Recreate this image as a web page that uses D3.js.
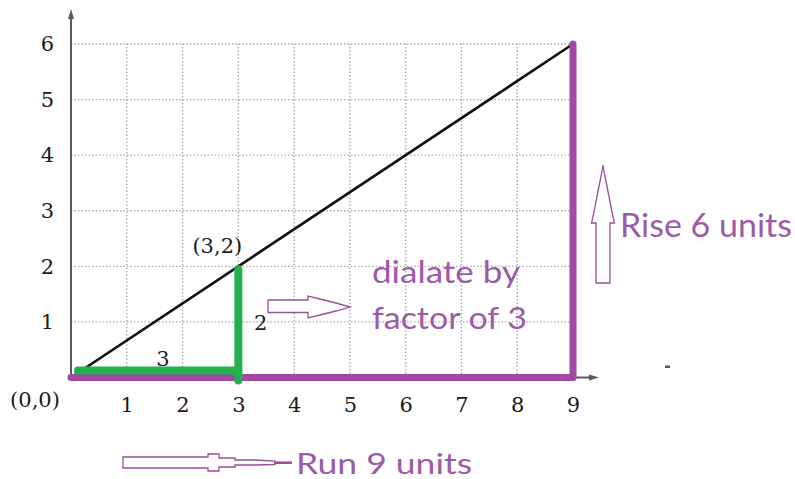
<!DOCTYPE html>
<html>
<head>
<meta charset="utf-8">
<script src="https://cdn.jsdelivr.net/npm/d3@7"></script>
<style>
  html, body { margin: 0; padding: 0; background: #fff; }
  svg { display: block; }
</style>
</head>
<body>
<svg id="chart" width="795" height="479"></svg>
<script>
// ---- data ----
const xTicks = [1, 2, 3, 4, 5, 6, 7, 8, 9];
const yTicks = [1, 2, 3, 4, 5, 6];
const gridX = [1, 2, 3, 4, 5, 6, 7, 8];
const gridY = [1, 2, 3, 4, 5, 6];
const diagonal = [[0, 0], [9, 6]];
const smallRun = [[0, 0], [3, 0]];
const smallRise = [[3, 0], [3, 2]];
const bigTriangle = [[0, 0], [9, 0], [9, 6]];
const pointLabels = [
  { text: "(0,0)", x: 0, y: 0 },
  { text: "(3,2)", x: 3, y: 2 }
];
const sideLabels = [
  { text: "3", x: 1.65, y: 0.35 },
  { text: "2", x: 3.4, y: 1.0 }
];
const notes = ["dialate by", "factor of 3", "Rise 6 units", "Run 9 units"];

// ---- setup ----
const svg = d3.select("#chart");
const x = d3.scaleLinear().domain([0, 9]).range([71, 573]);
const y = d3.scaleLinear().domain([0, 6]).range([377.5, 44]);
const line = d3.line().x(d => x(d[0])).y(d => y(d[1]));
const purple = "#a349a4";
const green = "#22b14c";
const textPurple = "#9c5aa7";
const serif = "'DejaVu Serif', 'Liberation Serif', serif";
const sans = "Lato, 'Open Sans', sans-serif";
const serifSize = 21;

// grid
svg.append("g").selectAll("line").data(gridX).join("line")
  .attr("x1", d => x(d)).attr("x2", d => x(d))
  .attr("y1", y(0)).attr("y2", y(6))
  .attr("stroke", "#aaaaaa").attr("stroke-width", 1.4)
  .attr("stroke-dasharray", "1.5,2");
svg.append("g").selectAll("line").data(gridY).join("line")
  .attr("x1", x(0)).attr("x2", x(9))
  .attr("y1", d => y(d)).attr("y2", d => y(d))
  .attr("stroke", "#aaaaaa").attr("stroke-width", 1.4)
  .attr("stroke-dasharray", "1.5,2");

// axes lines with arrows
const axisColor = "#5a5a5a";
svg.append("line").attr("x1", x(0)).attr("x2", x(0))
  .attr("y1", y(0) + 1).attr("y2", 16)
  .attr("stroke", axisColor).attr("stroke-width", 2);
svg.append("path").attr("d", `M${x(0)},9 L${x(0) - 3},19 L${x(0) + 3},19 Z`).attr("fill", axisColor);
svg.append("line").attr("x1", x(0)).attr("x2", 592)
  .attr("y1", y(0)).attr("y2", y(0))
  .attr("stroke", axisColor).attr("stroke-width", 2);
svg.append("path").attr("d", `M599,${y(0)} L589,${y(0) - 3} L589,${y(0) + 3} Z`).attr("fill", axisColor);

// tick labels via d3 axes
const xAxis = svg.append("g").attr("transform", `translate(0,${y(0)})`)
  .call(d3.axisBottom(x).tickValues(xTicks).tickSize(0).tickPadding(20).tickFormat(d3.format("d")));
xAxis.select(".domain").remove();
xAxis.selectAll("text").attr("font-family", serif).attr("font-size", serifSize).attr("fill", "#1a1a1a");

const yAxis = svg.append("g").attr("transform", `translate(${x(0)},0)`)
  .call(d3.axisLeft(y).tickValues(yTicks).tickSize(0).tickPadding(17).tickFormat(d3.format("d")));
yAxis.select(".domain").remove();
yAxis.selectAll("text").attr("font-family", serif).attr("font-size", serifSize).attr("fill", "#1a1a1a");

// diagonal line
svg.append("path").attr("d", line(diagonal))
  .attr("fill", "none").attr("stroke", "#111").attr("stroke-width", 2.6);

// big purple triangle legs
svg.append("path").attr("d", line(bigTriangle))
  .attr("fill", "none").attr("stroke", purple).attr("stroke-width", 7)
  .attr("stroke-linejoin", "round").attr("stroke-linecap", "round");

// small green triangle legs (run drawn just above the x-axis)
svg.append("path")
  .attr("d", `M${x(smallRun[0][0]) + 7},${y(smallRun[0][1]) - 7} H${x(smallRun[1][0])}`)
  .attr("fill", "none").attr("stroke", green).attr("stroke-width", 8)
  .attr("stroke-linecap", "round");
svg.append("path").attr("d", line(smallRise))
  .attr("transform", "translate(0,3)")
  .attr("fill", "none").attr("stroke", green).attr("stroke-width", 8)
  .attr("stroke-linecap", "round");

// point labels
svg.append("text").text(pointLabels[0].text)
  .attr("x", x(pointLabels[0].x) - 36).attr("y", y(pointLabels[0].y) + 29)
  .attr("text-anchor", "middle").attr("font-family", serif).attr("font-size", serifSize).attr("fill", "#1a1a1a");
svg.append("text").text(pointLabels[1].text)
  .attr("x", x(pointLabels[1].x) - 21).attr("y", y(pointLabels[1].y) - 13)
  .attr("text-anchor", "middle").attr("font-family", serif).attr("font-size", serifSize).attr("fill", "#1a1a1a");

// side labels
svg.selectAll(".side").data(sideLabels).join("text")
  .attr("class", "side").text(d => d.text)
  .attr("x", d => x(d.x)).attr("y", d => y(d.y) + 8)
  .attr("text-anchor", "middle").attr("font-family", serif).attr("font-size", serifSize).attr("fill", "#1a1a1a");

// annotation arrows (outlined)
const arrowStyle = s => s.attr("fill", "white").attr("stroke", "#9a4e9e").attr("stroke-width", 1.3)
  .attr("stroke-linejoin", "miter");
svg.append("path").call(arrowStyle).attr("d",
  "M268,300 L308,300 L308,296 L322,299.5 L336,303 L350,307 L336,311 L322,314.5 L308,318 L308,312.5 L268,312.5 Z");
svg.append("path").call(arrowStyle).attr("d",
  "M596,283 L596,223 L591.5,223 L594,212 L595.5,204 L597.5,194 L599.5,184 L601.5,174 L603,165 L604.5,174 L606.5,184 L608.5,194 L610.5,204 L612,212 L614.5,223 L610,223 L610,283 Z");
svg.append("path").call(arrowStyle).attr("d",
  "M123,457 L208,457 L208,454 L219,454 L219,458 L235,458 L235,460 L255,460 L275,461 L275,464.5 L255,465 L235,465 L235,467 L219,467 L219,471 L208,471 L208,468 L123,468 Z");
svg.append("line").attr("x1", 274).attr("x2", 292).attr("y1", 462.7).attr("y2", 462.7)
  .attr("stroke", "#9a4e9e").attr("stroke-width", 2.6);

// stray mark
svg.append("rect").attr("x", 665).attr("y", 365.5).attr("width", 5).attr("height", 2.5).attr("fill", "#555");

// notes
const noteSpecs = [
  { t: notes[0], x: 372, y: 283, size: 30, len: 148 },
  { t: notes[1], x: 372, y: 329, size: 30, len: 155 },
  { t: notes[2], x: 620, y: 237, size: 33, len: 172 },
  { t: notes[3], x: 296, y: 474, size: 29, len: 176 }
];
svg.selectAll(".note").data(noteSpecs).join("text")
  .attr("class", "note").text(d => d.t)
  .attr("x", d => d.x).attr("y", d => d.y)
  .attr("font-family", sans).attr("font-size", d => d.size)
  .attr("textLength", d => d.len).attr("lengthAdjust", "spacingAndGlyphs")
  .attr("fill", textPurple);
</script>
</body>
</html>
